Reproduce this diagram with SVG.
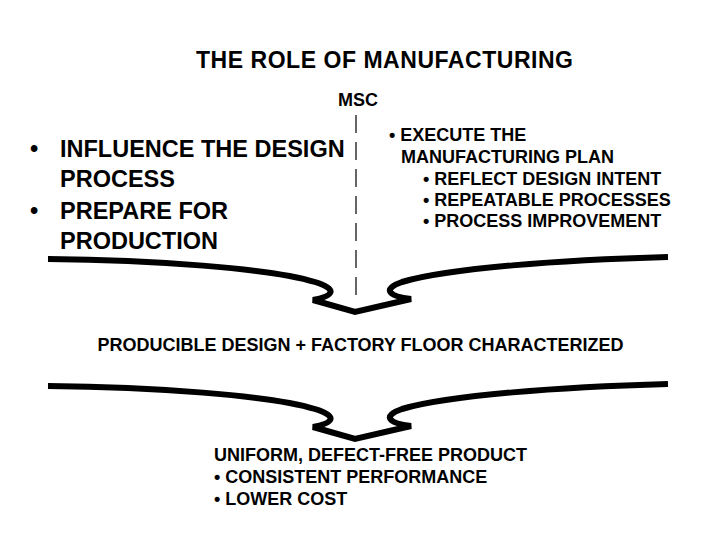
<svg xmlns="http://www.w3.org/2000/svg" width="720" height="540" viewBox="0 0 720 540">
<defs>
<style>
text{font-family:"Liberation Sans",Arial,sans-serif;font-weight:bold;fill:#000}
.t23{font-size:23px}
.t24{font-size:23.5px}
.t18{font-size:18px}
.brace{fill:none;stroke:#000;stroke-width:6;stroke-linejoin:miter;stroke-linecap:butt}
.dash{stroke:#000;stroke-width:1.2;stroke-dasharray:18 9}
</style>
<path id="brace" class="brace" d="M48,259 C150,260 270,268 315,282 C338,289 334,296 313,300 L355,312 L411,299 C388,296 382,289 402,282 C450,268 560,260 668,257"/>
</defs>
<rect width="720" height="540" fill="#fff"/>
<g id="title"><text class="t23" x="196" y="68" textLength="377" lengthAdjust="spacing">THE ROLE OF MANUFACTURING</text></g>
<g id="msc"><text class="t18" x="358" y="106" text-anchor="middle">MSC</text></g>
<g id="connectors">
<line class="dash" x1="356" y1="115" x2="356" y2="296"/>
<use href="#brace"/>
<use href="#brace" transform="translate(0,127)"/>
</g>
<g id="left-text">
<text class="t24" x="30" y="157">•</text>
<text class="t24" x="60" y="157">INFLUENCE THE DESIGN</text>
<text class="t24" x="60" y="187">PROCESS</text>
<text class="t24" x="30" y="219">•</text>
<text class="t24" x="60" y="219">PREPARE FOR</text>
<text class="t24" x="60" y="249">PRODUCTION</text>
</g>
<g id="right-text">
<text class="t18" x="389" y="141">• EXECUTE THE</text>
<text class="t18" x="401" y="163">MANUFACTURING PLAN</text>
<text class="t18" x="423" y="185">•  REFLECT DESIGN INTENT</text>
<text class="t18" x="423" y="206">•  REPEATABLE PROCESSES</text>
<text class="t18" x="423" y="227">•  PROCESS IMPROVEMENT</text>
</g>
<g id="middle"><text class="t18" x="360.5" y="351" text-anchor="middle">PRODUCIBLE DESIGN + FACTORY FLOOR CHARACTERIZED</text></g>
<g id="result">
<text class="t18" x="214" y="461">UNIFORM, DEFECT-FREE PRODUCT</text>
<text class="t18" x="214" y="483">• CONSISTENT PERFORMANCE</text>
<text class="t18" x="214" y="505">• LOWER COST</text>
</g>
</svg>
